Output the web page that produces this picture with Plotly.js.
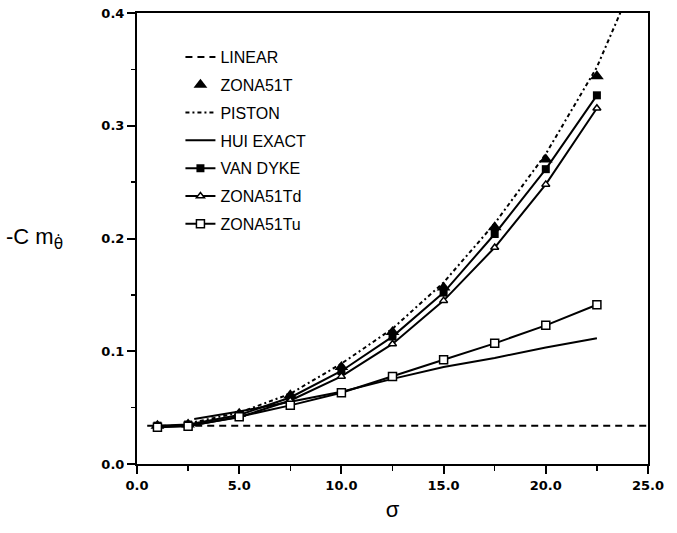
<!DOCTYPE html>
<html>
<head>
<meta charset="utf-8">
<script src="https://cdn.plot.ly/plotly-3.0.1.min.js"></script>
<style>html,body{margin:0;padding:0;background:#fff;}#chart{width:677px;height:533px;}</style>
</head>
<body>
<div id="chart"></div>
<script>
// sigma values
const sigma = [1, 2.5, 5, 7.5, 10, 12.5, 15, 17.5, 20, 22.5];
const linearX = [0.5, 25];
const linearY = [0.034, 0.034];
const zona51T = [0.034, 0.035, 0.0445, 0.061, 0.086, 0.117, 0.1565, 0.210, 0.270, 0.344];
const pistonX = [2.5, 5, 7.5, 10, 12.5, 15, 17.5, 20, 22.5, 25];
const pistonY = [0.036, 0.0455, 0.0623, 0.089, 0.120, 0.161, 0.2133, 0.275, 0.352, 0.457];
const huiX = [2.8, 5, 7.5, 10, 12.5, 15, 17.5, 20, 22.5];
const huiY = [0.040, 0.0465, 0.0553, 0.064, 0.0755, 0.086, 0.0941, 0.1034, 0.1115];
const vanDyke = [0.034, 0.035, 0.0435, 0.059, 0.0825, 0.113, 0.152, 0.204, 0.2615, 0.327];
const zona51Td = [0.033, 0.034, 0.0415, 0.0563, 0.0777, 0.1065, 0.1449, 0.192, 0.248, 0.3155];
const zona51Tu = [0.0325, 0.0335, 0.042, 0.052, 0.0632, 0.0775, 0.0924, 0.107, 0.123, 0.1412];
const names = ['LINEAR', 'ZONA51T', 'PISTON', 'HUI EXACT', 'VAN DYKE', 'ZONA51Td', 'ZONA51Tu'];

const FONT = 'Liberation Sans, Arial, sans-serif';
const TICKFONT = 'DejaVu Sans, sans-serif';
const traces = [
  {x: linearX, y: linearY, name: names[0], mode: 'lines', legendgroup: 'a',
   line: {color: '#000', width: 2, dash: '7px,5px'}},
  {x: sigma, y: zona51T, name: names[1], mode: 'markers', legendgroup: 'b',
   marker: {symbol: 'triangle-up', size: 12, color: '#000'}},
  {x: pistonX, y: pistonY, name: names[2], mode: 'lines', legendgroup: 'c',
   line: {color: '#000', width: 2, dash: '4px,3px,2px,3px'}},
  {x: huiX, y: huiY, name: names[3], mode: 'lines', legendgroup: 'd',
   line: {color: '#000', width: 2}},
  {x: sigma, y: vanDyke, name: names[4], mode: 'lines+markers', legendgroup: 'e',
   line: {color: '#000', width: 2}, marker: {symbol: 'square', size: 8, color: '#000'}},
  {x: sigma, y: zona51Td, name: names[5], mode: 'lines+markers', legendgroup: 'f',
   line: {color: '#000', width: 2}, marker: {symbol: 'triangle-up', size: 7, color: '#fff', line: {color: '#000', width: 1.5}}},
  {x: sigma, y: zona51Tu, name: names[6], mode: 'lines+markers', legendgroup: 'g',
   line: {color: '#000', width: 2}, marker: {symbol: 'square', size: 8, color: '#fff', line: {color: '#000', width: 1.5}}}
];

const axisCommon = {
  showgrid: false, zeroline: false, showline: true, linecolor: '#000', linewidth: 2,
  mirror: true, ticks: 'outside', ticklen: 8, tickwidth: 2, tickcolor: '#000',
  tickfont: {family: TICKFONT, size: 13, color: '#000', weight: 'bold'}, tickformat: '.1f'
};

const layout = {
  width: 677, height: 533,
  margin: {l: 137, r: 29, t: 13, b: 69},
  paper_bgcolor: '#fff', plot_bgcolor: '#fff',
  showlegend: true,
  legend: {x: 0.085, y: 0.94, xanchor: 'left', yanchor: 'top', bgcolor: 'rgba(0,0,0,0)',
           font: {family: FONT, size: 16, color: '#000'}, tracegroupgap: 4, traceorder: 'grouped'},
  xaxis: Object.assign({}, axisCommon, {range: [0, 25], dtick: 5,
    minor: {dtick: 2.5, ticks: 'outside', ticklen: 5, tickwidth: 1.5, tickcolor: '#000'},
    title: {text: 'σ', font: {family: FONT, size: 22, color: '#000'}, standoff: 10}}),
  yaxis: Object.assign({}, axisCommon, {range: [0, 0.4], dtick: 0.1,
    minor: {dtick: 0.05, ticks: 'outside', ticklen: 4, tickwidth: 1.5, tickcolor: '#000'}}),
  annotations: [{
    xref: 'paper', yref: 'paper', x: -0.2, y: 0.5, xanchor: 'center', yanchor: 'middle',
    showarrow: false,
    text: '-C m<sub><span style="font-family:DejaVu Sans">θ̇</span></sub>',
    font: {family: FONT, size: 22, color: '#000'}
  }]
};

Plotly.newPlot('chart', traces, layout, {displayModeBar: false, staticPlot: true});
</script>
</body>
</html>
